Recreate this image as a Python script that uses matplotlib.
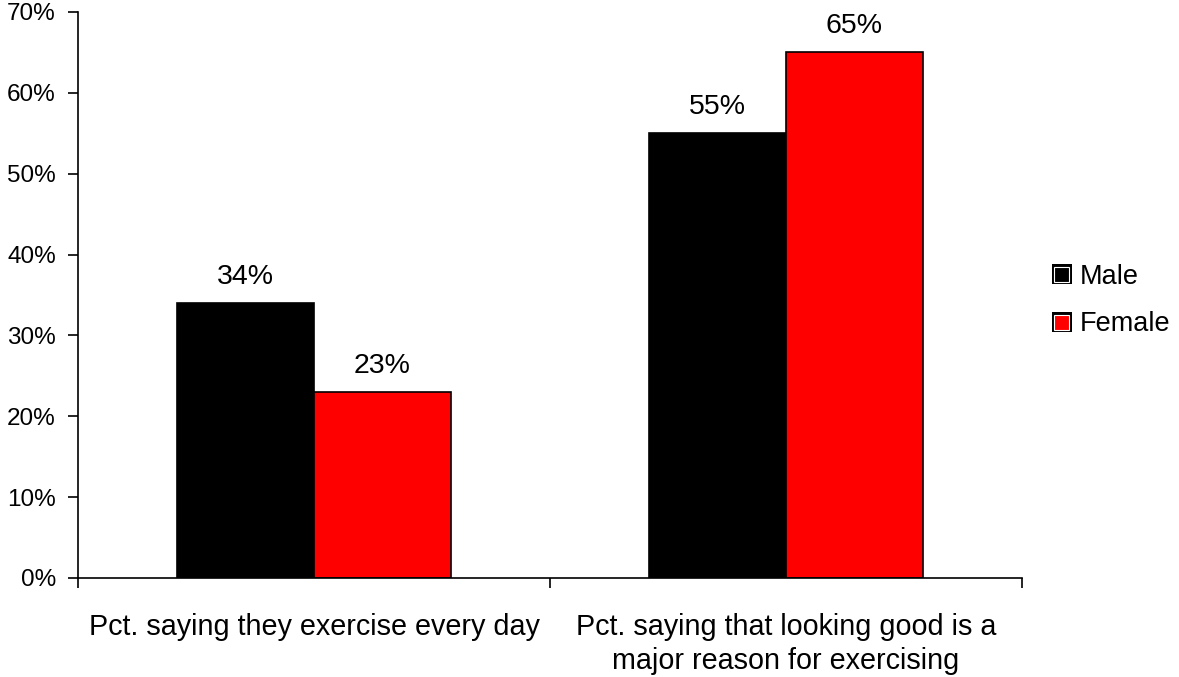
import matplotlib
matplotlib.use("Agg")
import matplotlib.pyplot as plt
import numpy as np
from matplotlib.ticker import MultipleLocator, FuncFormatter, FixedLocator, NullFormatter
from matplotlib.legend_handler import HandlerBase
from matplotlib.patches import Rectangle

plt.rcParams['font.family'] = ['Liberation Sans', 'DejaVu Sans']

categories = ["Pct. saying they exercise every day",
              "Pct. saying that looking good is a\nmajor reason for exercising"]
series_names = ["Male", "Female"]
male = [34, 55]
female = [23, 65]
colors = ["#000000", "#ff0000"]


class BoxedSquare(HandlerBase):
    """Legend key: a black frame with a thin white gap around the fill colour."""
    def create_artists(self, legend, orig_handle, xdescent, ydescent,
                       width, height, fontsize, trans):
        s = min(width, height)
        x0 = -xdescent + (width - s) / 2
        y0 = -ydescent + (height - s) / 2
        outer = Rectangle((x0, y0), s, s, facecolor="black", edgecolor="none",
                          transform=trans)
        g = s * 0.12
        inner = Rectangle((x0 + g, y0 + g), s - 2 * g, s - 2 * g,
                          facecolor=orig_handle.get_facecolor(),
                          edgecolor="white", linewidth=0.8, transform=trans)
        return [outer, inner]


fig = plt.figure(figsize=(11.79, 6.77), dpi=100)
ax = fig.add_axes([78/1179, 99/677, 944/1179, 566/677])

x = np.arange(len(categories))
w = 0.29
handles = []
for vals, off, col, name in [(male, -w/2, colors[0], series_names[0]),
                             (female, w/2, colors[1], series_names[1])]:
    bars = ax.bar(x + off, vals, width=w, color=col, edgecolor="black",
                  linewidth=1.2, label=name)
    handles.append(bars.patches[0])
    for b, v in zip(bars, vals):
        ax.text(b.get_x() + b.get_width()/2, v + 1.6, f"{v}%",
                ha="center", va="bottom", fontsize=20.5)

ax.set_xlim(-0.5, 1.5)
ax.set_ylim(0, 70)
ax.yaxis.set_major_locator(MultipleLocator(10))
ax.yaxis.set_major_formatter(FuncFormatter(lambda v, p: f"{int(v)}%"))
ax.set_xticks(x)
ax.set_xticklabels(categories, fontsize=20.7, linespacing=1.3)
ax.tick_params(axis="x", which="major", length=0, pad=25)
ax.xaxis.set_minor_locator(FixedLocator([-0.5, 0.5, 1.5]))
ax.xaxis.set_minor_formatter(NullFormatter())
ax.tick_params(axis="x", which="minor", length=7, width=1.2, direction="out")
ax.tick_params(axis="y", length=7, width=1.2, direction="out", labelsize=17.5, pad=9)

for s in ["top", "right"]:
    ax.spines[s].set_visible(False)
for s in ["left", "bottom"]:
    ax.spines[s].set_linewidth(1.2)

ax.legend(handles, series_names, loc="center left", bbox_to_anchor=(1.02, 0.49),
          frameon=False, fontsize=19.5, handlelength=0.75, handleheight=0.75,
          handletextpad=0.3, labelspacing=0.8, borderaxespad=0,
          handler_map={Rectangle: BoxedSquare()})

fig.savefig("out.png", dpi=100)
